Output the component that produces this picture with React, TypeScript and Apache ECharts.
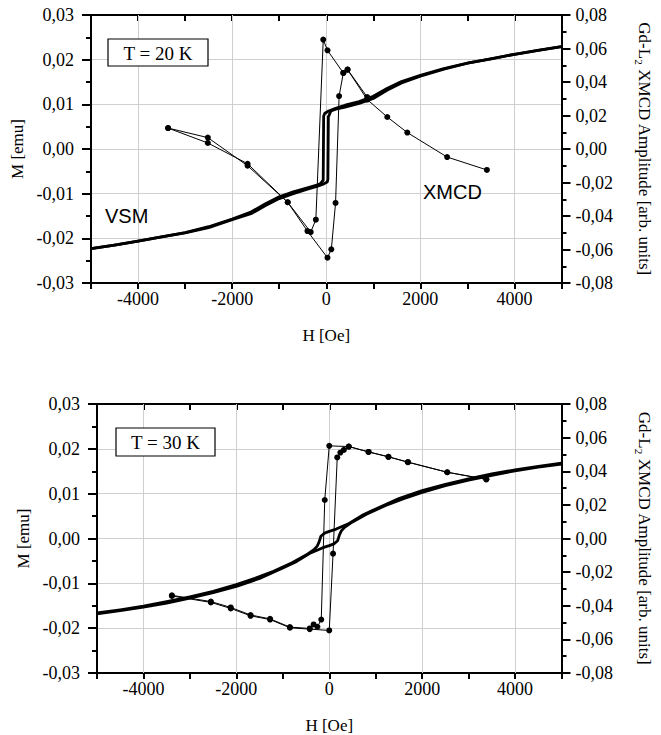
import React, { useEffect, useRef } from 'react';
import * as echarts from 'echarts';

// gridline positions on the H axis
const hGridTicks = [-4000, -2000, 0, 2000, 4000];

// ---------- T = 20 K : VSM (M [emu]) ----------
const vsm20AscH = [-5000, -4500, -4000, -3500, -3000, -2500, -2000, -1600, -1300, -1000, -700, -400, -200, -50, 20, 35, 45, 100, 200, 400, 700, 1000, 1300, 1600, 2000, 2500, 3000, 3500, 4000, 4500, 5000];
const vsm20AscM = [-0.0223, -0.0215, -0.0206, -0.0197, -0.0188, -0.0176, -0.0158, -0.0145, -0.0127, -0.0111, -0.0100, -0.0090, -0.0084, -0.0078, -0.0074, -0.0068, 0.0072, 0.0085, 0.0089, 0.0094, 0.0102, 0.0113, 0.0132, 0.0148, 0.0163, 0.0179, 0.0192, 0.0202, 0.0212, 0.0221, 0.0229];
const vsm20DescH = [5000, 4500, 4000, 3500, 3000, 2500, 2000, 1600, 1300, 1000, 700, 400, 200, 50, -30, -55, -65, -120, -200, -400, -700, -1000, -1300, -1600, -2000, -2500, -3000, -3500, -4000, -4500, -5000];
const vsm20DescM = [0.0229, 0.0221, 0.0212, 0.0202, 0.0192, 0.0180, 0.0165, 0.0151, 0.0136, 0.0118, 0.0106, 0.0098, 0.0091, 0.0085, 0.0080, 0.0074, -0.0070, -0.0077, -0.0081, -0.0087, -0.0096, -0.0107, -0.0123, -0.0141, -0.0157, -0.0174, -0.0187, -0.0197, -0.0206, -0.0215, -0.0223];

// ---------- T = 20 K : XMCD (right axis) ----------
const xmcd20DescH = [3414, 2569, 1723, 1297, 871, 453, 363, 26, -64, -221, -330, -819, -1672, -2517, -3362];
const xmcd20DescV = [-0.0125, -0.0048, 0.0098, 0.0191, 0.0295, 0.0474, 0.0454, 0.0589, 0.0653, -0.0422, -0.0496, -0.0318, -0.0088, 0.0036, 0.0125];
const xmcd20AscH = [-3362, -2517, -1672, -819, -400, 26, 108, 198, 273, 363, 453, 871];
const xmcd20AscV = [0.0125, 0.0068, -0.0100, -0.0318, -0.0490, -0.0649, -0.0599, -0.0322, 0.0316, 0.0454, 0.0474, 0.0310];

// ---------- T = 30 K : VSM ----------
const vsm30DescH = [5000, 4500, 4000, 3500, 3000, 2500, 2000, 1500, 1000, 700, 400, 300, 150, 0, -100, -180, -220, -260, -330, -500, -800, -1200, -1600, -2000, -2500, -3000, -3500, -4000, -4500, -5000];
const vsm30DescM = [0.0168, 0.0161, 0.0153, 0.0144, 0.0133, 0.0121, 0.0107, 0.0089, 0.0066, 0.0051, 0.0032, 0.0028, 0.0021, 0.0016, 0.0012, 0.0005, -0.0008, -0.0017, -0.0025, -0.0037, -0.0054, -0.0073, -0.0089, -0.0103, -0.0118, -0.0130, -0.0141, -0.0151, -0.0159, -0.0166];
const vsm30AscH = [-5000, -4500, -4000, -3500, -3000, -2500, -2000, -1500, -1000, -700, -400, -300, -150, 0, 100, 180, 220, 260, 330, 500, 800, 1200, 1600, 2000, 2500, 3000, 3500, 4000, 4500, 5000];
const vsm30AscM = [-0.0168, -0.0161, -0.0153, -0.0144, -0.0133, -0.0121, -0.0107, -0.0089, -0.0066, -0.0051, -0.0032, -0.0028, -0.0021, -0.0016, -0.0012, -0.0005, 0.0008, 0.0017, 0.0025, 0.0037, 0.0054, 0.0073, 0.0089, 0.0103, 0.0118, 0.0130, 0.0141, 0.0151, 0.0159, 0.0166];

// ---------- T = 30 K : XMCD ----------
const xmcd30DescH = [3381, 2541, 1694, 1274, 847, 420, 0, -97, -172, -255, -337, -420, -847, -1274, -1694, -2121, -2549, -3388];
const xmcd30DescV = [0.0352, 0.0394, 0.0454, 0.0486, 0.0515, 0.0547, 0.0551, 0.0229, -0.0482, -0.0525, -0.0511, -0.0535, -0.0527, -0.0478, -0.0455, -0.0410, -0.0375, -0.0338];
const xmcd30AscH = [-3388, -2549, -2121, -1694, -1274, -847, -420, 0, 82, 172, 240, 315, 420, 847, 1274, 1694, 2541, 3381];
const xmcd30AscV = [-0.0342, -0.0380, -0.0416, -0.0460, -0.0482, -0.0531, -0.0539, -0.0547, -0.0090, 0.0482, 0.0511, 0.0527, 0.0547, 0.0515, 0.0486, 0.0454, 0.0394, 0.0352];

const SERIF = '"Liberation Serif", "Times New Roman", serif';
const SANS = '"Liberation Sans", Arial, sans-serif';

const pairs = (h: number[], v: number[]) => h.map((x, i) => [x, v[i]]);
const fmt = (v: number) => (Math.abs(v) < 1e-9 ? '0,00' : v.toFixed(2).replace('.', ','));

const tickFont = { fontFamily: SERIF, fontSize: 18, color: '#000' };
const nameFont = { fontFamily: SERIF, fontSize: 17, color: '#000' };

function xAxes(gi: number) {
  return [
    {
      type: 'value', gridIndex: gi, position: 'bottom', min: -5000, max: 5000, interval: 1000,
      axisLine: { show: true, onZero: false, lineStyle: { color: '#000', width: 2 } },
      axisTick: { show: true, inside: false, length: 6, lineStyle: { color: '#000', width: 2 } },
      axisLabel: { ...tickFont, margin: 7, formatter: (v: number) => (v % 2000 === 0 && Math.abs(v) < 5000 ? String(v) : '') },
      splitLine: { show: false },
      name: 'H [Oe]', nameLocation: 'middle', nameGap: 44, nameTextStyle: nameFont,
    },
    {
      type: 'value', gridIndex: gi, position: 'top', min: -5000, max: 5000, interval: 1000,
      axisLine: { show: true, onZero: false, lineStyle: { color: '#000', width: 2 } },
      axisTick: { show: true, inside: true, length: 6, lineStyle: { color: '#000', width: 2 } },
      axisLabel: { show: false },
      splitLine: { show: false },
    },
  ];
}

function yAxes(gi: number) {
  return [
    {
      type: 'value', gridIndex: gi, position: 'left', min: -0.03, max: 0.03, interval: 0.01,
      axisLine: { show: true, onZero: false, lineStyle: { color: '#000', width: 2 } },
      axisTick: { show: true, inside: false, length: 9, lineStyle: { color: '#000', width: 2 } },
      minorTick: { show: true, splitNumber: 2, length: 5, lineStyle: { color: '#000', width: 2 } },
      axisLabel: { ...tickFont, margin: 17, formatter: fmt },
      splitLine: { show: true, lineStyle: { color: '#cfcfcf', width: 1 } },
      name: 'M [emu]', nameLocation: 'middle', nameGap: 62, nameTextStyle: nameFont,
    },
    {
      type: 'value', gridIndex: gi, position: 'right', min: -0.08, max: 0.08, interval: 0.02,
      axisLine: { show: true, onZero: false, lineStyle: { color: '#000', width: 2 } },
      axisTick: { show: true, inside: false, length: 9, lineStyle: { color: '#000', width: 2 } },
      minorTick: { show: true, splitNumber: 2, length: 5, lineStyle: { color: '#000', width: 2 } },
      axisLabel: { ...tickFont, margin: 14, formatter: fmt },
      splitLine: { show: false },
      name: '{n|Gd-L}{s|2}{n| XMCD Amplitude [arb. units]}',
      nameLocation: 'middle', nameGap: 72, nameRotate: -90,
      nameTextStyle: {
        ...nameFont,
        rich: {
          n: { fontFamily: SERIF, fontSize: 17, color: '#000', lineHeight: 22, verticalAlign: 'middle' },
          s: { fontFamily: SERIF, fontSize: 11, color: '#000', lineHeight: 11, verticalAlign: 'bottom' },
        },
      },
    },
  ];
}

function plotSeries(gi: number, ascVSM: number[][], descVSM: number[][], ascX: number[][], descX: number[][]) {
  const xi = gi * 2;
  const yl = gi * 2;
  const yr = gi * 2 + 1;
  const vsm = {
    type: 'line', xAxisIndex: xi, yAxisIndex: yl, showSymbol: false, symbol: 'none', z: 3,
    lineStyle: { color: '#000', width: 2.8, join: 'round' }, silent: true,
  };
  const xm = {
    type: 'line', xAxisIndex: xi, yAxisIndex: yr, symbol: 'circle', symbolSize: 6, z: 4,
    itemStyle: { color: '#000' }, lineStyle: { color: '#000', width: 1 }, silent: true,
  };
  return [
    {
      type: 'line', xAxisIndex: xi, yAxisIndex: yl, data: [], z: 1, silent: true,
      markLine: {
        z: 1, silent: true, symbol: 'none', label: { show: false },
        lineStyle: { color: '#cfcfcf', width: 1, type: 'solid' },
        data: hGridTicks.map((h) => ({ xAxis: h })),
      },
    },
    { ...vsm, data: ascVSM },
    { ...vsm, data: descVSM },
    { ...xm, data: ascX },
    { ...xm, data: descX },
  ];
}

export default function App() {
  const ref = useRef<HTMLDivElement>(null);
  useEffect(() => {
    if (!ref.current) return;
    const chart = echarts.init(ref.current, null, { renderer: 'svg' });
    const option = {
      animation: false,
      backgroundColor: '#fff',
      grid: [
        { left: 91, top: 15, width: 471, height: 268 },
        { left: 97, top: 404, width: 469, height: 269 },
      ],
      xAxis: [...xAxes(0), ...xAxes(1)],
      yAxis: [...yAxes(0), ...yAxes(1)],
      series: [
        ...plotSeries(0, pairs(vsm20AscH, vsm20AscM), pairs(vsm20DescH, vsm20DescM), pairs(xmcd20AscH, xmcd20AscV), pairs(xmcd20DescH, xmcd20DescV)),
        ...plotSeries(1, pairs(vsm30AscH, vsm30AscM), pairs(vsm30DescH, vsm30DescM), pairs(xmcd30AscH, xmcd30AscV), pairs(xmcd30DescH, xmcd30DescV)),
      ],
      graphic: [
        { type: 'rect', z: 10, shape: { x: 108, y: 39, width: 100, height: 27 }, style: { fill: '#fff', stroke: '#000', lineWidth: 1.2 } },
        { type: 'text', z: 11, x: 158, y: 53, style: { text: 'T = 20 K', font: `19px ${SERIF}`, fill: '#000', align: 'center', verticalAlign: 'middle', textAlign: 'center', textVerticalAlign: 'middle' } },
        { type: 'rect', z: 10, shape: { x: 116, y: 428, width: 99, height: 28 }, style: { fill: '#fff', stroke: '#000', lineWidth: 1.2 } },
        { type: 'text', z: 11, x: 165.5, y: 442, style: { text: 'T = 30 K', font: `19px ${SERIF}`, fill: '#000', align: 'center', verticalAlign: 'middle', textAlign: 'center', textVerticalAlign: 'middle' } },
        { type: 'text', z: 11, x: 105, y: 216, style: { text: 'VSM', font: `20px ${SANS}`, fill: '#000', align: 'left', verticalAlign: 'middle', textAlign: 'left', textVerticalAlign: 'middle' } },
        { type: 'text', z: 11, x: 423, y: 192, style: { text: 'XMCD', font: `20px ${SANS}`, fill: '#000', align: 'left', verticalAlign: 'middle', textAlign: 'left', textVerticalAlign: 'middle' } },
      ],
    };
    chart.setOption(option as any);
    return () => chart.dispose();
  }, []);
  return <div ref={ref} style={{ position: 'fixed', left: 0, top: 0, width: 661, height: 735, background: '#fff' }} />;
}
